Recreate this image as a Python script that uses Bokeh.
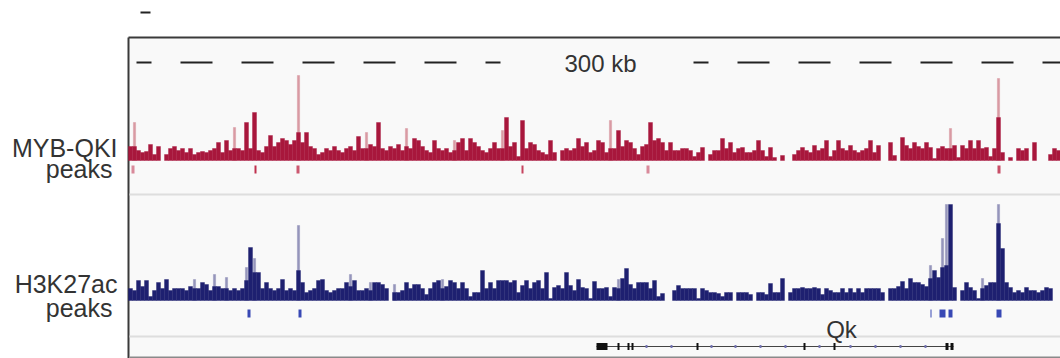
from bokeh.plotting import figure
from bokeh.models import Range1d, Label
from bokeh.embed import file_html
from bokeh.resources import INLINE

# ---------------------------------------------------------------- data
# Genomic window, in kb from the left edge of the track panel
KB_PER_PX = 0.3
WINDOW_KB = 932 * KB_PER_PX
BIN_KB = 1.2
RULER_TEXT = "300 kb"

# MYB-QKI coverage (windowed mean), one value per 1.2 kb bin
myb_signal = [
    14, 14, 10, 8, 9, 16, 6, 14, 0, 6, 12, 14, 10, 12, 8, 12, 6, 8, 9, 8, 10, 12, 18, 8, 20, 10,
    12, 12, 10, 38, 12, 48, 10, 8, 14, 25, 14, 18, 22, 20, 16, 20, 28, 18, 28, 14, 12, 6, 8, 12, 10, 14,
    10, 8, 12, 14, 10, 24, 12, 12, 16, 14, 38, 12, 10, 14, 12, 16, 10, 14, 12, 22, 20, 14, 10, 8, 20, 12,
    10, 12, 8, 10, 18, 22, 10, 22, 18, 14, 10, 8, 12, 18, 12, 12, 43, 14, 18, 4, 40, 12, 18, 16, 10, 8,
    6, 20, 8, 0, 10, 12, 10, 12, 22, 14, 18, 8, 10, 20, 18, 8, 12, 12, 30, 14, 20, 18, 12, 6, 14, 16,
    38, 20, 22, 18, 10, 18, 10, 10, 12, 12, 10, 4, 8, 13, 0, 6, 10, 10, 22, 12, 18, 8, 12, 13, 8, 8,
    10, 20, 10, 4, 13, 3, 0, 5, 0, 0, 6, 10, 13, 10, 8, 15, 10, 12, 20, 4, 10, 20, 12, 10, 15, 10,
    8, 10, 12, 20, 8, 15, 0, 0, 18, 5, 0, 23, 15, 12, 18, 14, 12, 18, 13, 2, 12, 14, 12, 12, 15, 3,
    15, 12, 20, 12, 20, 12, 13, 4, 12, 43, 8, 0, 3, 0, 12, 10, 12, 0, 18, 0, 0, 0, 6, 12, 10,
]
# MYB-QKI windowed maxima that rise above the mean
myb_max_bin = [1, 26, 42, 59, 69, 81, 93, 120, 205, 217]
myb_max_val = [38, 33, 85, 28, 32, 20, 30, 40, 32, 82]
# MYB-QKI called peaks (kb) and their scores
myb_peak_start = [0.9, 37.8, 50.4, 117.9, 155.4, 260.7]
myb_peak_end = [1.8, 38.4, 51.3, 118.5, 156.3, 261.6]
myb_peak_score = [0.55, 1.0, 0.8, 0.9, 0.55, 0.85]

# H3K27ac coverage (windowed mean)
h3_signal = [
    12, 10, 20, 14, 20, 4, 10, 18, 12, 21, 10, 12, 12, 12, 10, 14, 12, 12, 18, 16, 10, 14, 14, 12, 12, 10,
    12, 10, 12, 20, 53, 28, 28, 12, 18, 12, 10, 12, 21, 10, 12, 10, 30, 18, 8, 10, 12, 20, 21, 10, 8, 10,
    12, 12, 18, 14, 20, 10, 10, 12, 10, 18, 18, 16, 12, 0, 8, 8, 10, 18, 12, 16, 16, 12, 6, 12, 18, 20,
    12, 14, 20, 18, 12, 18, 12, 4, 8, 8, 30, 12, 18, 12, 20, 20, 20, 18, 20, 8, 15, 20, 12, 18, 20, 12,
    28, 2, 13, 15, 12, 28, 15, 10, 21, 13, 12, 2, 19, 12, 12, 13, 4, 13, 12, 22, 32, 16, 12, 18, 18, 18,
    12, 20, 4, 7, 0, 0, 10, 15, 12, 12, 12, 12, 2, 12, 10, 8, 8, 7, 4, 8, 8, 0, 8, 8, 8, 6,
    0, 8, 8, 6, 17, 8, 8, 22, 0, 8, 12, 12, 13, 12, 12, 13, 12, 6, 12, 10, 8, 8, 12, 8, 12, 8,
    12, 8, 12, 12, 12, 12, 8, 0, 12, 12, 14, 19, 12, 22, 18, 18, 16, 14, 22, 30, 23, 33, 35, 96, 13, 0,
    10, 18, 13, 10, 2, 12, 15, 18, 18, 77, 52, 18, 13, 8, 10, 8, 13, 10, 10, 8, 10, 13, 12, 0, 0,
]
h3_max_bin = [16, 21, 24, 29, 31, 42, 55, 60, 66, 78, 122, 200, 203, 204, 213, 217]
h3_max_val = [21, 26, 23, 33, 42, 75, 26, 18, 16, 21, 21, 35, 62, 96, 22, 96]
h3_peak_start = [35.7, 51.0, 240.6, 243.3, 246.0, 260.4]
h3_peak_end = [36.6, 51.9, 240.9, 245.1, 247.2, 261.9]

# Qk gene model (kb)
qk_tx_start, qk_tx_end = 140.4, 247.5
qk_exon_start = [140.4, 146.7, 149.7, 150.9, 170.4, 202.5, 211.5, 245.1, 246.6]
qk_exon_end = [143.7, 147.3, 150.3, 151.5, 171.0, 203.1, 212.1, 246.0, 247.5]
qk_strand_marks = [155.4, 162.9, 174.9, 182.1, 189.6, 197.1, 207.3, 216.6, 224.1, 231.6, 239.1]

# ---------------------------------------------------------------- layout
W, H = 1060, 358
PANEL_TOP = 37
RULER_Y = 62
MYB_BASE = 160
MYB_PEAK_Y = (165, 173)
SEP1_Y = 194
H3_BASE = 300
H3_PEAK_Y = (309, 317)
SEP2_Y = 336
GENE_Y = 346
BOTTOM_Y = 357

MYB_DARK, MYB_LIGHT = "#a8173c", "#d99aa3"
H3_DARK, H3_LIGHT = "#1e2070", "#9595bb"
TEXT = "#333333"
FONT = "Liberation Sans"


def px(x_screen):
    """Screen column -> genomic kb (panel starts at column 128)."""
    return (x_screen - 128) * KB_PER_PX


p = figure(width=W, height=H, output_backend="svg", toolbar_location=None,
           x_range=Range1d(px(0), px(W)), y_range=Range1d(H, 0),
           x_axis_location=None, y_axis_location=None, min_border=0)
p.grid.visible = False
p.outline_line_color = None
p.background_fill_color = "white"
p.border_fill_color = "white"

# panel background and frame
p.quad(left=[0], right=[WINDOW_KB], top=[PANEL_TOP], bottom=[H], fill_color="#f9f9f9", line_color=None)
p.segment(x0=[0, 0], y0=[PANEL_TOP, PANEL_TOP], x1=[WINDOW_KB, 0], y1=[PANEL_TOP, H],
          line_color="#3a3a3a", line_width=2)
p.segment(x0=[0.3, 0.3], y0=[SEP1_Y, SEP2_Y], x1=[WINDOW_KB, WINDOW_KB], y1=[SEP1_Y, SEP2_Y],
          line_color="#dedede", line_width=2)
p.segment(x0=[0.3], y0=[BOTTOM_Y], x1=[WINDOW_KB], y1=[BOTTOM_Y], line_color="#8a8a8a", line_width=2)
p.segment(x0=[px(140)], y0=[12], x1=[px(150)], y1=[12], line_color="#222222", line_width=2)

# ruler
p.line(x=[px(136), px(500)], y=[RULER_Y, RULER_Y], line_color="#222222", line_width=2,
       line_dash="32 29", line_dash_offset=17)
p.line(x=[px(693), WINDOW_KB], y=[RULER_Y, RULER_Y], line_color="#222222", line_width=2,
       line_dash="32 29", line_dash_offset=17)
p.add_layout(Label(x=px(600), y=63, text=RULER_TEXT, text_align="center", text_baseline="alphabetic",
                   text_font=FONT, text_font_size="24px", text_color=TEXT))


def draw_track(signal, max_bin, max_val, base, dark, light):
    centers = [(i + 0.5) * BIN_KB for i in range(len(signal))]
    mx_centers = [(i + 0.5) * BIN_KB for i in max_bin]
    p.vbar(x=mx_centers, width=BIN_KB * 0.55, bottom=base, top=[base - v for v in max_val],
           fill_color=light, line_color=light, line_width=0.5)
    keep = [i for i, v in enumerate(signal) if v > 0]
    p.vbar(x=[centers[i] for i in keep], width=BIN_KB, bottom=base,
           top=[base - signal[i] for i in keep], fill_color=dark, line_color=dark, line_width=0.4)


draw_track(myb_signal, myb_max_bin, myb_max_val, MYB_BASE, MYB_DARK, MYB_LIGHT)
draw_track(h3_signal, h3_max_bin, h3_max_val, H3_BASE, H3_DARK, H3_LIGHT)

# peak calls
p.quad(left=myb_peak_start, right=myb_peak_end, top=MYB_PEAK_Y[0], bottom=MYB_PEAK_Y[1],
       fill_color="#c0304e", fill_alpha=myb_peak_score, line_color=None)
p.quad(left=h3_peak_start, right=h3_peak_end, top=H3_PEAK_Y[0], bottom=H3_PEAK_Y[1],
       fill_color="#3848b4", line_color=None)

# gene model
p.segment(x0=[qk_tx_start], y0=[GENE_Y], x1=[qk_tx_end], y1=[GENE_Y], line_color="#444444", line_width=1)
p.segment(x0=qk_strand_marks, y0=GENE_Y - 1.5, x1=qk_strand_marks, y1=GENE_Y + 1.5,
          line_color="#7474b4", line_width=2)
p.quad(left=qk_exon_start, right=qk_exon_end, top=GENE_Y - 3.5, bottom=GENE_Y + 3.5,
       fill_color="#111111", line_color=None)
p.add_layout(Label(x=px(841), y=329, text="Qk", text_align="center", text_baseline="alphabetic",
                   text_font=FONT, text_font_size="24px", text_color=TEXT))

# track names
for txt, xr, yb in [("MYB-QKI", px(117), 147), ("peaks", px(112), 168),
                    ("H3K27ac", px(117), 283), ("peaks", px(112), 307)]:
    p.add_layout(Label(x=xr, y=yb, text=txt, text_align="right", text_baseline="alphabetic",
                       text_font=FONT, text_font_size="25px", text_color=TEXT))

open("out.html", "w").write(file_html(p, INLINE))
